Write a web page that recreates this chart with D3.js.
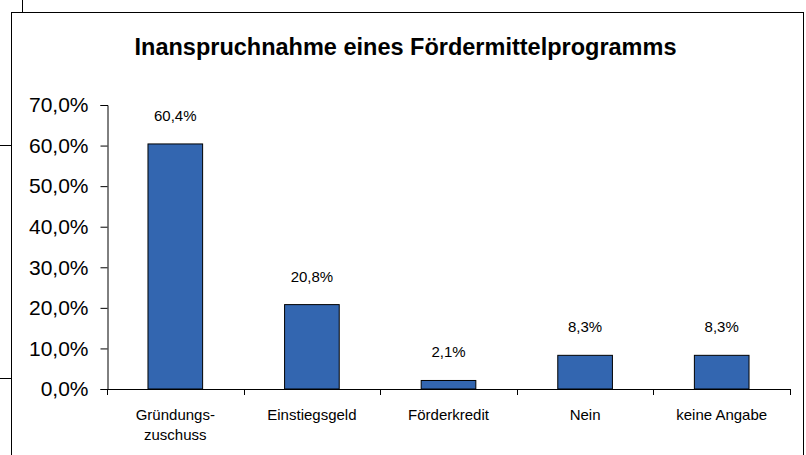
<!DOCTYPE html>
<html>
<head>
<meta charset="utf-8">
<script src="https://cdn.jsdelivr.net/npm/d3@7"></script>
<style>
  body { margin: 0; background: #fff; }
  text { font-family: "Liberation Sans", Arial, sans-serif; fill: #000; }
</style>
</head>
<body>
<div id="chart"></div>
<script>
// data
var categories = [['Gründungs-', 'zuschuss'], ['Einstiegsgeld'], ['Förderkredit'], ['Nein'], ['keine Angabe']];
var values = [60.4, 20.8, 2.1, 8.3, 8.3];
var valueLabels = ['60,4%', '20,8%', '2,1%', '8,3%', '8,3%'];
var yTicks = [0, 10, 20, 30, 40, 50, 60, 70];

var width = 806, height = 455;
var margin = {top: 105, bottom: 66, left: 107, right: 16};

var svg = d3.select('#chart')
  .append('svg')
  .attr('width', width)
  .attr('height', height);

// stray frame lines from the source page
svg.append('line').attr('x1', 22.5).attr('x2', 22.5).attr('y1', 0).attr('y2', 12).attr('stroke', '#000');
svg.append('line').attr('x1', 0).attr('x2', 11).attr('y1', 145.5).attr('y2', 145.5).attr('stroke', '#000');
svg.append('line').attr('x1', 0).attr('x2', 11).attr('y1', 378.5).attr('y2', 378.5).attr('stroke', '#000');

// chart frame
svg.append('rect')
  .attr('x', 11.5).attr('y', 12.5)
  .attr('width', 792).attr('height', 460)
  .attr('fill', 'none')
  .attr('stroke', '#000');

svg.append('text')
  .attr('x', 405.5)
  .attr('y', 55)
  .attr('text-anchor', 'middle')
  .style('font-size', '23.5px')
  .style('font-weight', 'bold')
  .text('Inanspruchnahme eines Fördermittelprogramms');

var yScale = d3.scaleLinear()
  .domain([0, 70])
  .range([height - margin.bottom, margin.top]);

var xScale = d3.scaleBand()
  .domain(d3.range(categories.length))
  .range([margin.left, width - margin.right])
  .paddingInner(0.6)
  .paddingOuter(0.3);

var xEdges = d3.scaleLinear()
  .domain([0, categories.length])
  .range([margin.left, width - margin.right]);

// y axis
var yAxis = svg.append('g')
  .attr('transform', 'translate(' + (margin.left + 0.5) + ',0)')
  .call(d3.axisLeft(yScale).tickValues(yTicks).tickSize(7).tickPadding(12)
    .tickFormat(function(d) { return d3.format('.1f')(d).replace('.', ',') + '%'; }));
yAxis.select('.domain').attr('stroke', '#000');
yAxis.selectAll('.tick line').attr('stroke', '#000');
yAxis.selectAll('text').style('font-size', '21px').attr('fill', '#000');

// x axis line with category ticks
var xg = svg.append('g');
xg.append('line')
  .attr('x1', margin.left).attr('x2', width - margin.right)
  .attr('y1', yScale(0) + 0.5).attr('y2', yScale(0) + 0.5)
  .attr('stroke', '#000');
xg.selectAll('.xt')
  .data(d3.range(categories.length + 1))
  .enter().append('line')
  .attr('x1', function(d) { return Math.round(xEdges(d)) + 0.5; })
  .attr('x2', function(d) { return Math.round(xEdges(d)) + 0.5; })
  .attr('y1', yScale(0)).attr('y2', yScale(0) + 6)
  .attr('stroke', '#000');

// bars
svg.selectAll('rect.bar')
  .data(values)
  .enter().append('rect')
  .attr('class', 'bar')
  .attr('x', function(d, i) { return xScale(i); })
  .attr('y', function(d) { return yScale(d); })
  .attr('width', xScale.bandwidth())
  .attr('height', function(d) { return yScale(0) - yScale(d); })
  .attr('fill', '#3366b0')
  .attr('stroke', '#000')
  .attr('stroke-width', 1);

// value labels
svg.selectAll('text.val')
  .data(values)
  .enter().append('text')
  .attr('class', 'val')
  .attr('x', function(d, i) { return xScale(i) + xScale.bandwidth() / 2; })
  .attr('y', function(d) { return yScale(d) - 23; })
  .attr('text-anchor', 'middle')
  .style('font-size', '15px')
  .text(function(d, i) { return valueLabels[i]; });

// category labels
var cat = svg.selectAll('text.cat')
  .data(categories)
  .enter().append('text')
  .attr('class', 'cat')
  .attr('text-anchor', 'middle')
  .style('font-size', '15px');
cat.selectAll('tspan')
  .data(function(d, i) { return d.map(function(t) { return {t: t, i: i}; }); })
  .enter().append('tspan')
  .attr('x', function(d) { return xScale(d.i) + xScale.bandwidth() / 2; })
  .attr('y', function(d, j) { return 420 + j * 20; })
  .text(function(d) { return d.t; });
</script>
</body>
</html>
